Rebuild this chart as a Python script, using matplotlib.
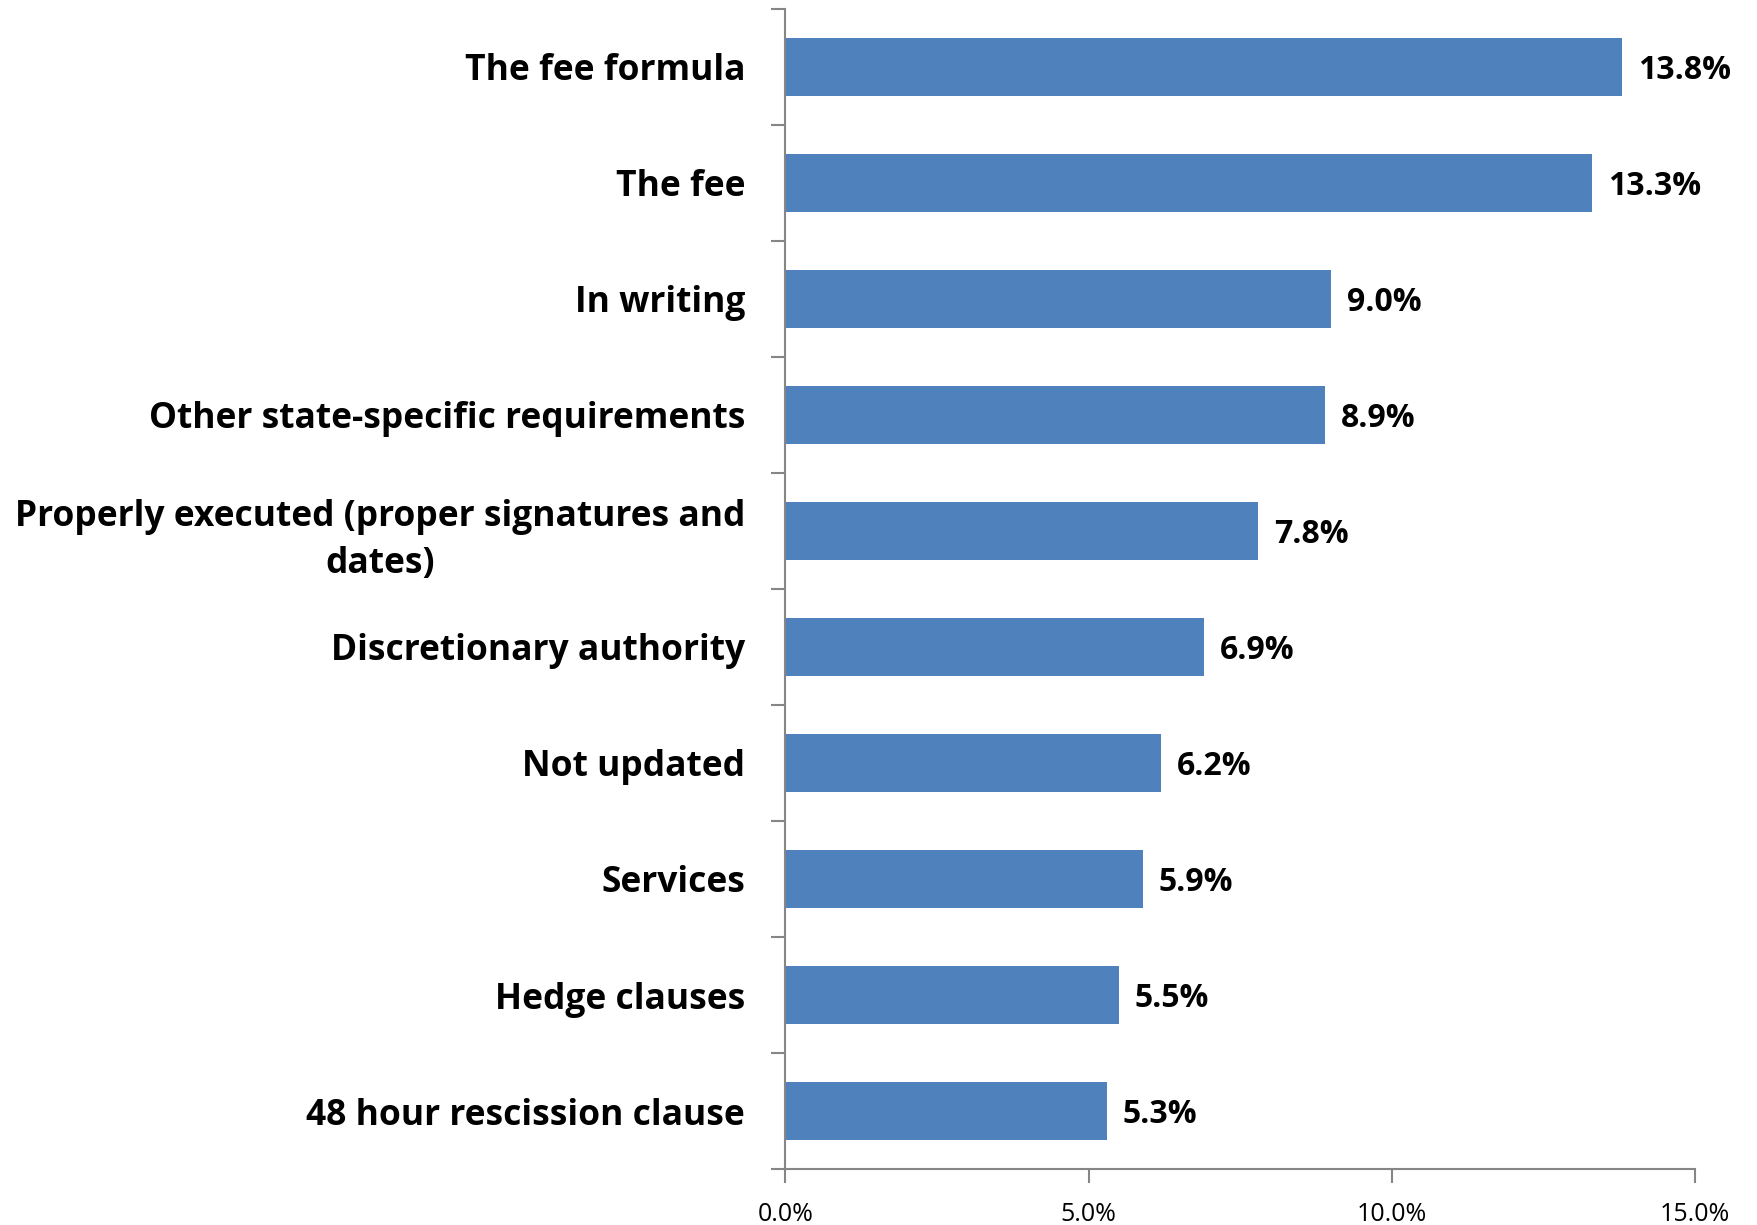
import matplotlib
matplotlib.use("Agg")
import matplotlib.pyplot as plt
from matplotlib.ticker import FuncFormatter

categories = [
    "The fee formula",
    "The fee",
    "In writing",
    "Other state-specific requirements",
    "Properly executed (proper signatures and\ndates)",
    "Discretionary authority",
    "Not updated",
    "Services",
    "Hedge clauses",
    "48 hour rescission clause",
]
values = [13.8, 13.3, 9.0, 8.9, 7.8, 6.9, 6.2, 5.9, 5.5, 5.3]
xticks = [0, 5, 10, 15]

plt.rcParams["font.family"] = ["Open Sans", "DejaVu Sans"]

fig = plt.figure(figsize=(17.57, 12.25), dpi=100)
ax = fig.add_axes([0.447, 0.0457, 0.5178, 0.947])

n = len(categories)
ypos = list(range(n))
ax.barh(ypos, values, height=0.5, color="#4F81BD", zorder=2)
ax.set_ylim(n - 0.5, -0.5)
ax.set_xlim(0, 15)

ax.set_xticks(xticks)
ax.xaxis.set_major_formatter(FuncFormatter(lambda v, p: f"{v:.1f}%"))
ax.set_yticks(ypos)
ax.set_yticklabels(categories, fontsize=25.5, fontweight="bold", linespacing=1.4)
for t in ax.get_yticklabels():
    t.set_multialignment("center")
ax.tick_params(axis="y", length=0, pad=29)
ax.set_yticks([i - 0.5 for i in range(n + 1)], minor=True)
ax.tick_params(axis="y", which="minor", length=10, color="#868686", width=1.5)
ax.tick_params(axis="x", length=10, color="#868686", width=1.5, labelsize=18, pad=14)

for s in ["top", "right"]:
    ax.spines[s].set_visible(False)
for s in ["left", "bottom"]:
    ax.spines[s].set_color("#868686")
    ax.spines[s].set_linewidth(1.5)

for y, v in zip(ypos, values):
    ax.text(v + 0.26, y + 0.03, f"{v:.1f}%", va="center", ha="left",
            fontsize=23, fontweight="bold")

fig.savefig("out.png", dpi=100)
